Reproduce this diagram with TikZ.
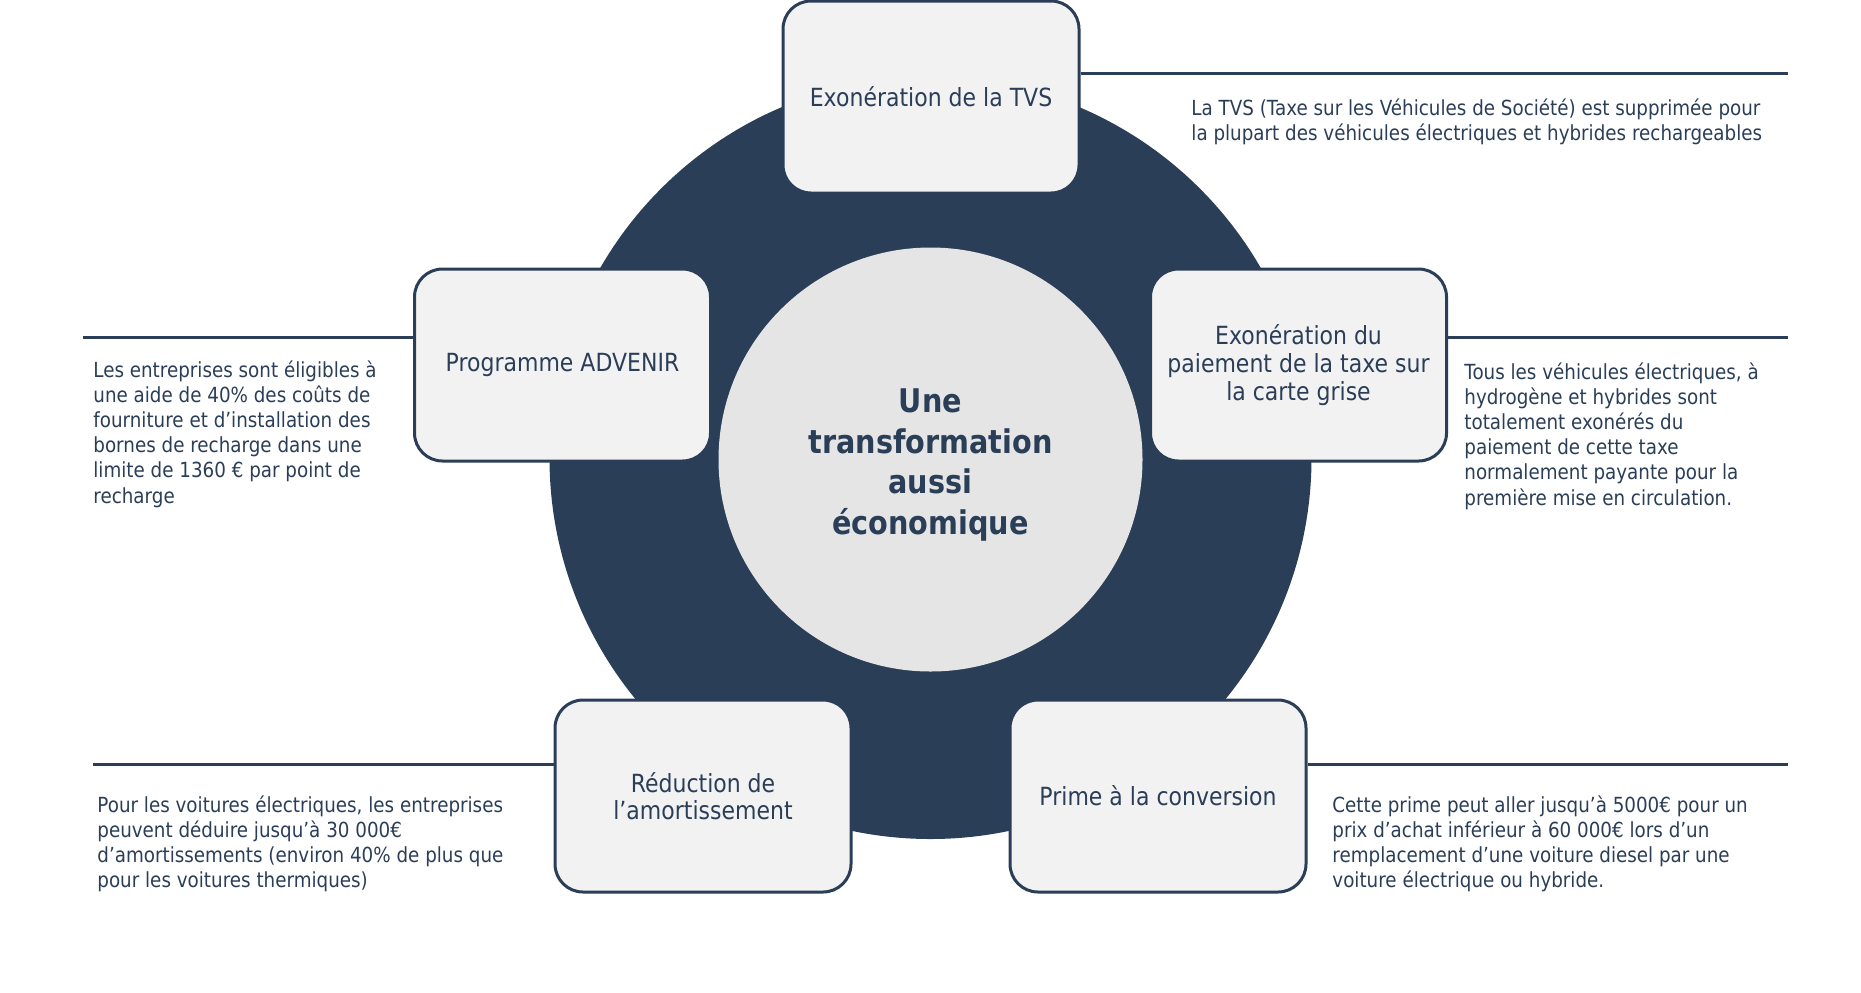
\documentclass[tikz,border=0pt]{standalone}
\usepackage{fontspec}
\setmainfont{DejaVu Sans}[FakeStretch=0.88]
\usetikzlibrary{positioning}
\definecolor{navy}{HTML}{2B3E58}
\definecolor{boxgray}{HTML}{F2F2F2}
\definecolor{coregray}{HTML}{E5E5E5}

\begin{document}
\begin{tikzpicture}[x=0.5pt,y=-0.5pt,every node/.append style={align=center},
    box/.style={draw=navy, line width=1.5pt, fill=boxgray, rounded corners=14pt, minimum width=148pt, minimum height=96pt, text=navy, inner sep=2pt, font=\fontsize{12.5}{13.8}\selectfont},
    desc/.style={anchor=north west, align=left, text=navy, inner sep=0pt, font=\fontsize{10.4}{12.6}\selectfont},
    lnk/.style={draw=navy, line width=1.5pt}]
    \useasboundingbox (0,0) rectangle (1861,992);

    \node [circle, fill=navy, minimum size=381pt, inner sep=0pt] (ring) at (930.5,458) {};
    \node [circle, fill=coregray, minimum size=212pt, inner sep=0pt] (core) at (930.5,459.5) {};
    \node [text=navy, font=\fontsize{16.3}{20.3}\selectfont\bfseries] (coretxt) at (930.5,465) {Une\\transformation\\aussi\\économique};

    \node [box] (tvs)     at (931,97)    {Exonération de la TVS};
    \node [box] (advenir) at (562.5,365) {Programme ADVENIR};
    \node [box] (grise)   at (1298.5,365) {Exonération du\\paiement de la taxe sur\\la carte grise};
    \node [box] (amort)   at (703,796)   {Réduction de\\l’amortissement};
    \node [box] (prime)   at (1158,796)  {Prime à la conversion};

    % free ends of the rules
    \coordinate (tvsend)     at (1788,73.5);
    \coordinate (advenirend) at (83,337);
    \coordinate (griseend)   at (1788,337);
    \coordinate (amortend)   at (92.5,764.5);
    \coordinate (primeend)   at (1788,764.5);

    \draw [lnk] (tvs.east |- tvsend) -- (tvsend);
    \draw [lnk] (advenirend) -- (advenir.west |- advenirend);
    \draw [lnk] (grise.east |- griseend) -- (griseend);
    \draw [lnk] (amortend) -- (amort.west |- amortend);
    \draw [lnk] (prime.east |- primeend) -- (primeend);

    \node [desc] (tvstxt) at (1191,98) {La TVS (Taxe sur les Véhicules de Société) est supprimée pour\\la plupart des véhicules électriques et hybrides rechargeables};
    \node [desc] (advenirtxt) at (93,360) {Les entreprises sont éligibles à\\une aide de 40\% des coûts de\\fourniture et d’installation des\\bornes de recharge dans une\\limite de 1360 € par point de\\recharge};
    \node [desc] (grisetxt) at (1464,362) {Tous les véhicules électriques, à\\hydrogène et hybrides sont\\totalement exonérés du\\paiement de cette taxe\\normalement payante pour la\\première mise en circulation.};
    \node [desc] (amorttxt) at (97,795) {Pour les voitures électriques, les entreprises\\peuvent déduire jusqu'à 30 000€\\d'amortissements (environ 40\% de plus que\\pour les voitures thermiques)};
    \node [desc] (primetxt) at (1332,795) {Cette prime peut aller jusqu’à 5000€ pour un\\prix d’achat inférieur à 60 000€ lors d’un\\remplacement d’une voiture diesel par une\\voiture électrique ou hybride.};
\end{tikzpicture}
\end{document}
